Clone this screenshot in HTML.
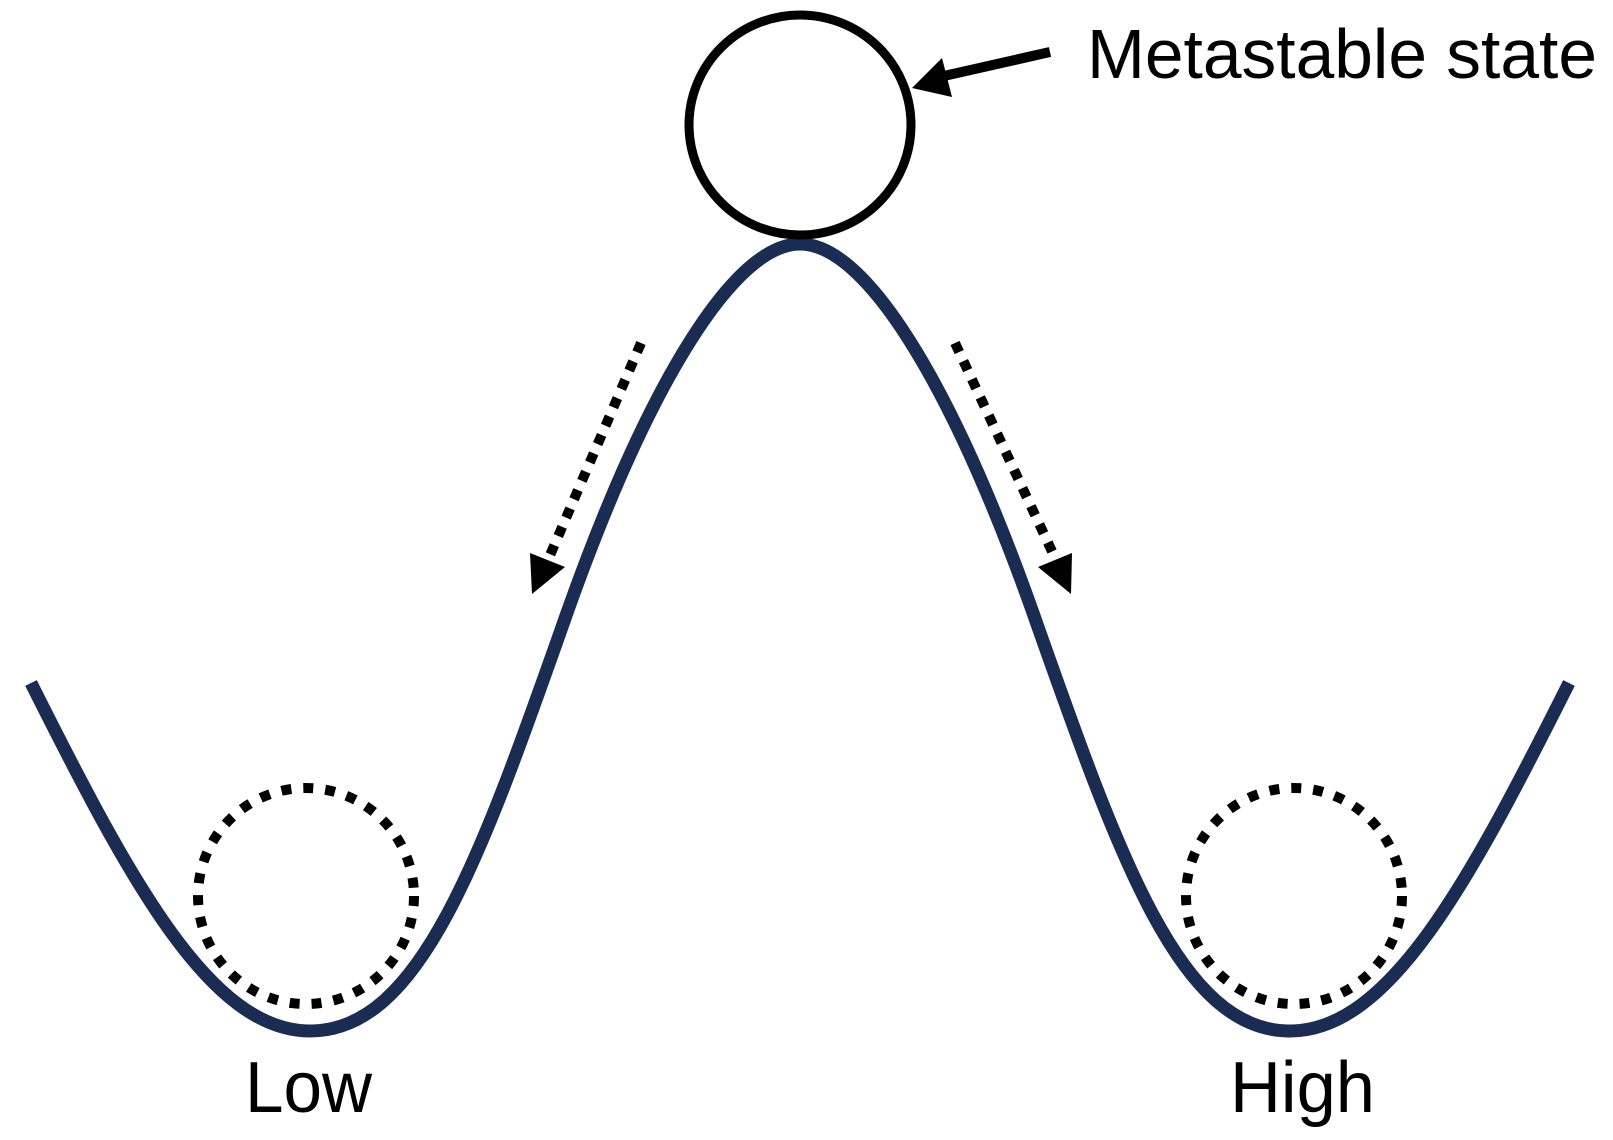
<!DOCTYPE html>
<html><head><meta charset="utf-8"><style>html,body{margin:0;padding:0;background:#fff}svg{display:block}</style></head>
<body>
<svg width="1613" height="1140" viewBox="0 0 1613 1140" xmlns="http://www.w3.org/2000/svg">
<path d="M31,683 C130,880 210,1031 310,1031 C420,1031 480,860 568,610 C650,380 735,244 800,244 C865,244 950,380 1032,610 C1120,860 1180,1031 1290,1031 C1390,1031 1470,880 1569,683" fill="none" stroke="#1a2c52" stroke-width="13"/>
<ellipse cx="800" cy="125" rx="111" ry="110" fill="none" stroke="#000" stroke-width="9"/>
<circle cx="306" cy="896" r="108" fill="none" stroke="#000" stroke-width="10" stroke-dasharray="10 12"/>
<circle cx="1294" cy="896" r="108" fill="none" stroke="#000" stroke-width="10" stroke-dasharray="10 12"/>
<line x1="1050" y1="52" x2="935" y2="78" stroke="#000" stroke-width="10"/>
<polygon points="912,88 942,58 952,97" fill="#000"/>
<line x1="641" y1="343" x2="548" y2="560" stroke="#000" stroke-width="10" stroke-dasharray="10 10"/>
<polygon points="532,594 530,553 565,567" fill="#000"/>
<line x1="955" y1="343" x2="1056" y2="560" stroke="#000" stroke-width="10" stroke-dasharray="10 10"/>
<polygon points="1071,594 1072,553 1038,567" fill="#000"/>
<text x="1087" y="78" font-family="Liberation Sans, sans-serif" font-size="70" textLength="510" lengthAdjust="spacingAndGlyphs">Metastable state</text>
<text x="245" y="1112" font-family="Liberation Sans, sans-serif" font-size="72" textLength="127" lengthAdjust="spacingAndGlyphs">Low</text>
<text x="1230" y="1112" font-family="Liberation Sans, sans-serif" font-size="72" textLength="145" lengthAdjust="spacingAndGlyphs">High</text>
</svg>
</body></html>
